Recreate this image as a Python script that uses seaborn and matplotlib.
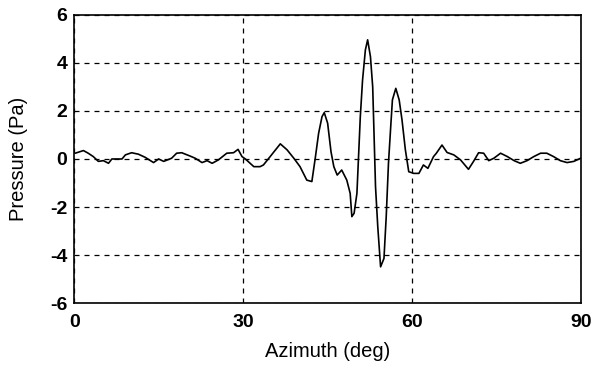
import numpy as np
import pandas as pd
import matplotlib
matplotlib.use("Agg")
import matplotlib.pyplot as plt
import seaborn as sns

azimuth = [0.2, 1.65, 2.5, 3.4, 4.3, 5.2, 6.1, 6.7, 8.5, 9.1, 10.2, 11.4, 12.6, 14.1, 15.0,
           15.9, 17.3, 18.2, 19.1, 20.6, 21.5, 22.7, 23.6, 24.5, 25.6, 27.1, 28.3, 29.1,
           29.8, 30.4, 31.9, 33.0, 33.6, 34.8, 36.6, 37.8, 39.0, 40.1, 41.3, 42.2, 42.8,
           43.4, 44.0, 44.4, 45.0, 45.6, 46.1, 46.7, 47.5, 48.4, 49.0, 49.3, 49.7, 50.2,
           50.8, 51.2, 51.7, 52.1, 52.6, 53.0, 53.5, 53.9, 54.4, 55.0, 55.4, 55.8, 56.2,
           56.5, 57.1, 57.7, 58.2, 58.8, 59.4, 60.3, 61.2, 62.0, 62.8, 63.8, 64.3, 65.3,
           66.2, 67.4, 68.6, 70.0, 70.9, 71.8, 72.7, 73.6, 74.5, 75.7, 76.9, 78.1, 79.2,
           80.4, 81.6, 82.8, 83.9, 85.1, 86.3, 87.5, 88.7, 89.9]
pressure = [0.24, 0.35, 0.24, 0.10, -0.10, -0.07, -0.18, 0.0, 0.0, 0.17, 0.26, 0.20, 0.07, -0.15, 0.0,
            -0.10, 0.03, 0.24, 0.26, 0.12, 0.03, -0.15, -0.07, -0.18, -0.04, 0.24, 0.26, 0.40,
            0.10, 0.0, -0.32, -0.32, -0.25, 0.10, 0.63, 0.38, 0.03, -0.32, -0.88, -0.94, 0.03,
            1.07, 1.76, 1.93, 1.49, 0.30, -0.32, -0.67, -0.46, -0.88, -1.43, -2.40, -2.26, -1.43,
            1.76, 3.29, 4.54, 4.96, 4.26, 3.00, -1.15, -2.82, -4.49, -4.14, -2.40, -0.18, 1.35,
            2.46, 2.94, 2.46, 1.63, 0.38, -0.53, -0.60, -0.60, -0.25, -0.39, 0.10, 0.24, 0.58,
            0.27, 0.17, -0.04, -0.43, -0.10, 0.26, 0.24, -0.07, 0.03, 0.24, 0.10, -0.07, -0.18,
            -0.07, 0.10, 0.24, 0.24, 0.10, -0.07, -0.15, -0.10, 0.03]
x_ticks = [0, 30, 60, 90]
y_ticks = [-6, -4, -2, 0, 2, 4, 6]

sns.set_style("white")
plt.rcParams['font.family'] = ['Liberation Sans', 'DejaVu Sans']
plt.rcParams['text.color'] = 'black'
plt.rcParams['axes.labelcolor'] = 'black'
plt.rcParams['xtick.color'] = 'black'
plt.rcParams['ytick.color'] = 'black'

df = pd.DataFrame({"Azimuth": azimuth, "Pressure": pressure})

fig = plt.figure(figsize=(5.93, 3.71), dpi=100)
ax = fig.add_axes([0.125, 0.183, 0.855, 0.777])
sns.lineplot(data=df, x="Azimuth", y="Pressure", ax=ax, color="black",
             linewidth=1.2, sort=False, estimator=None)

ax.set_xlim(0, 90)
ax.set_ylim(-6, 6)
ax.set_xticks(x_ticks)
ax.set_yticks(y_ticks)
ax.set_xticklabels([str(t) for t in x_ticks], fontweight="bold", fontsize=14)
ax.set_yticklabels([str(t) for t in y_ticks], fontweight="bold", fontsize=14)
ax.tick_params(axis="x", length=0, pad=7.5, colors="black")
ax.tick_params(axis="y", length=0, pad=5, colors="black")
ax.grid(True, color="black", linestyle=(0, (4, 4)), linewidth=0.9)
for s in ax.spines.values():
    s.set_color("black")
    s.set_linewidth(1.2)
ax.set_xlabel("Azimuth (deg)", fontsize=14.5, labelpad=8, color="black")
ax.set_ylabel("Pressure (Pa)", fontsize=14.5, labelpad=15.5, color="black")

fig.savefig("out.png", dpi=100)
